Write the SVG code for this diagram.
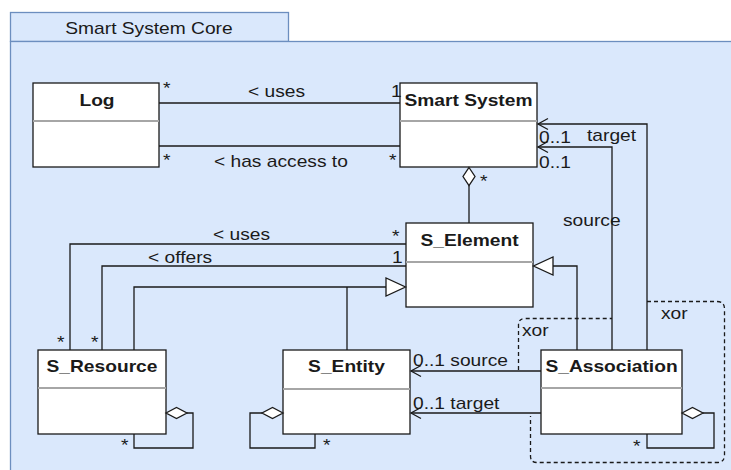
<svg xmlns="http://www.w3.org/2000/svg" width="731" height="470" viewBox="0 0 731 470">
<defs>
<style>
.pkg{fill:#dae8fc;stroke:#6c8ebf;stroke-width:1.3}
.box{fill:#ffffff;stroke:#1a1a1a;stroke-width:1.3}
.sep{stroke:#a6a6a6;stroke-width:2}
.ln{fill:none;stroke:#1a1a1a;stroke-width:1.3}
.dash{fill:none;stroke:#1a1a1a;stroke-width:1.3;stroke-dasharray:4 3}
.dia{fill:#ffffff;stroke:#1a1a1a;stroke-width:1.3}
text{font-family:"Liberation Sans",Arial,sans-serif;font-size:16px;fill:#1a1a1a}
.b{font-weight:bold;text-anchor:middle}
.m{text-anchor:middle}
</style>
<marker id="open" markerWidth="14" markerHeight="14" refX="11" refY="7" orient="auto" markerUnits="userSpaceOnUse">
<path d="M1,1.5 L11,7 L1,12.5" fill="none" stroke="#1a1a1a" stroke-width="1.3"/>
</marker>
</defs>

<g id="package">
<rect class="pkg" x="10.5" y="12.5" width="278" height="29"/>
<rect class="pkg" x="10.5" y="41.5" width="730" height="440"/>
<text class="m" transform="matrix(1.2 0 0 1 149 34)">Smart System Core</text>
</g>

<g id="log">
<rect class="box" x="33" y="83" width="126" height="84"/>
<line class="sep" x1="33" y1="121" x2="159" y2="121"/>
<text class="b" transform="matrix(1.2 0 0 1 97 106)">Log</text>
</g>
<g id="smart-system">
<rect class="box" x="400" y="83" width="137" height="84"/>
<line class="sep" x1="400" y1="121" x2="537" y2="121"/>
<text class="b" transform="matrix(1.2 0 0 1 468.5 106)">Smart System</text>
</g>
<g id="s-element">
<rect class="box" x="406" y="223" width="127" height="84"/>
<line class="sep" x1="406" y1="262" x2="533" y2="262"/>
<text class="b" transform="matrix(1.2 0 0 1 469.5 246)">S_Element</text>
</g>
<g id="s-resource">
<rect class="box" x="38" y="350" width="128" height="84"/>
<line class="sep" x1="38" y1="388" x2="166" y2="388"/>
<text class="b" transform="matrix(1.2 0 0 1 102 372)">S_Resource</text>
</g>
<g id="s-entity">
<rect class="box" x="283" y="350" width="127" height="84"/>
<line class="sep" x1="283" y1="389" x2="410" y2="389"/>
<text class="b" transform="matrix(1.2 0 0 1 346.5 372)">S_Entity</text>
</g>
<g id="s-association">
<rect class="box" x="541" y="350" width="141" height="84"/>
<line class="sep" x1="541" y1="388" x2="682" y2="388"/>
<text class="b" transform="matrix(1.2 0 0 1 611.5 372)">S_Association</text>
</g>

<g id="connectors">
<line class="ln" x1="159" y1="103" x2="400" y2="103"/>
<line class="ln" x1="159" y1="146" x2="400" y2="146"/>
<path class="ln" d="M469,185 V223"/>
<path class="dia" d="M469,167.5 L475,176.5 L469,185.5 L463,176.5 Z"/>
<path class="ln" d="M647,350 V124 H538" marker-end="url(#open)"/>
<path class="ln" d="M612,350 V147 H538" marker-end="url(#open)"/>
<path class="ln" d="M577,350 V266 H553"/>
<path class="dia" d="M553,257 L553,275 L533.5,266 Z"/>
<path class="ln" d="M406,244 H70 V350"/>
<path class="ln" d="M406,266 H102 V350"/>
<path class="ln" d="M134,350 V287 H386"/>
<path class="ln" d="M347,350 V287"/>
<path class="dia" d="M386,278 L386,296 L405.5,287 Z"/>
<path class="ln" d="M541,371 H411" marker-end="url(#open)"/>
<path class="ln" d="M541,413 H411" marker-end="url(#open)"/>
<path class="ln" d="M187,413 H193 V448 H134 V434"/>
<path class="dia" d="M166,413 L176.5,407.5 L187,413 L176.5,418.5 Z"/>
<path class="ln" d="M262,413 H250 V448 H315 V434"/>
<path class="dia" d="M283,413 L272.5,407.5 L262,413 L272.5,418.5 Z"/>
<path class="ln" d="M703,413 H714 V448 H647 V434"/>
<path class="dia" d="M682,413 L692.5,407.5 L703,413 L692.5,418.5 Z"/>
<path class="dash" d="M518.5,370 V325 Q518.5,318.5 525,318.5 H612"/>
<path class="dash" d="M647,301.5 H717 Q724.5,301.5 724.5,309 V455 Q724.5,462.5 717,462.5 H537 Q530.5,462.5 530.5,456 V416"/>
</g>

<g id="labels">
<text transform="matrix(1.2 0 0 1 248 97)">&lt; uses</text>
<text transform="matrix(1.2 0 0 1 163 94)">*</text>
<text transform="matrix(1.2 0 0 1 391 97)">1</text>
<text transform="matrix(1.2 0 0 1 214 167)">&lt; has access to</text>
<text transform="matrix(1.2 0 0 1 163 166)">*</text>
<text transform="matrix(1.2 0 0 1 389 166)">*</text>
<text transform="matrix(1.2 0 0 1 539 143)">0..1</text>
<text transform="matrix(1.2 0 0 1 587 141)">target</text>
<text transform="matrix(1.2 0 0 1 539 168)">0..1</text>
<text transform="matrix(1.2 0 0 1 563 226)">source</text>
<text transform="matrix(1.2 0 0 1 480 187)">*</text>
<text transform="matrix(1.2 0 0 1 213 240)">&lt; uses</text>
<text transform="matrix(1.2 0 0 1 392 242)">*</text>
<text transform="matrix(1.2 0 0 1 148 263)">&lt; offers</text>
<text transform="matrix(1.2 0 0 1 392 263)">1</text>
<text transform="matrix(1.2 0 0 1 57 348)">*</text>
<text transform="matrix(1.2 0 0 1 91 348)">*</text>
<text transform="matrix(1.2 0 0 1 121 451)">*</text>
<text transform="matrix(1.2 0 0 1 323 451)">*</text>
<text transform="matrix(1.2 0 0 1 633 452)">*</text>
<text transform="matrix(1.2 0 0 1 413 366)">0..1 source</text>
<text transform="matrix(1.2 0 0 1 413 409)">0..1 target</text>
<text transform="matrix(1.2 0 0 1 522 336)">xor</text>
<text transform="matrix(1.2 0 0 1 661 319)">xor</text>
</g>
</svg>
